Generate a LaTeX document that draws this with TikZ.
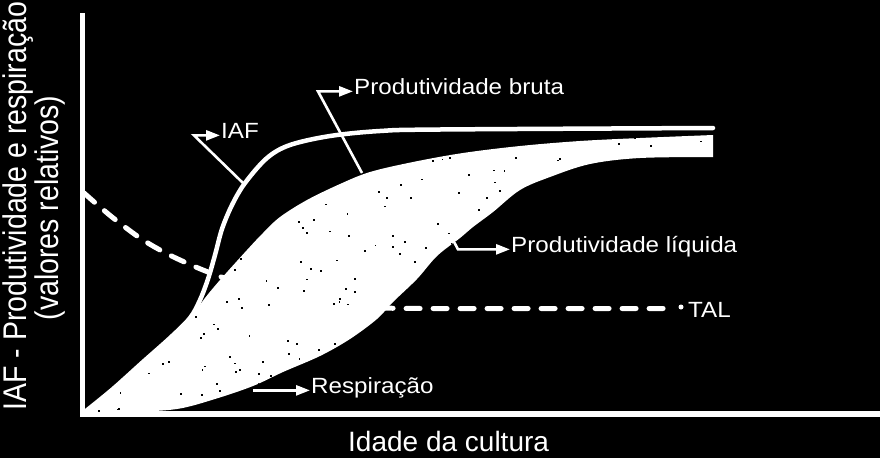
\documentclass[tikz,border=0pt]{standalone}
\usepackage{fontspec}
\setmainfont{Liberation Sans}
\usetikzlibrary{arrows.meta}
\newcommand\hstr[1]{\scalebox{1.1}[1]{#1}}
\newcommand\vstr[1]{\scalebox{1}[1.15]{#1}}
\begin{document}
\begin{tikzpicture}[x=1pt,y=-1pt,
  lbl/.style={text=white, inner sep=0pt, font=\fontsize{22}{26}\selectfont},
  axlbl/.style={text=white, inner sep=0pt, font=\fontsize{28.5}{33}\selectfont},
  conn/.style={draw=white, line width=2.6pt, shorten >=1pt, -{Triangle[length=14pt,width=10pt]}},
  curve/.style={draw=white, line width=4.5pt, line cap=round, line join=round},
  taldash/.style={draw=white, line width=5pt, line cap=round, dash pattern=on 14pt off 13pt},
  yaxis/.style={draw=white, line width=4.5pt},
  xaxis/.style={draw=white, line width=5.5pt},
  taldot/.style={circle, fill=white, inner sep=0pt, minimum size=5pt}]

\useasboundingbox (0,0) rectangle (880,458);
\fill[black] (0,0) rectangle (880,458);

% axes
\coordinate (ytop) at (82.5,13);
\coordinate (O) at (82.5,414);
\coordinate (xO) at (80,414);
\coordinate (xend) at (880,414);
\draw[yaxis] (ytop) -- (O);
\draw[xaxis] (xO) -- (xend);

% TAL (dashed), drawn under the shaded band
\draw[taldash] plot[smooth, tension=0.55] coordinates {(84,193) (100,207) (117,221) (140,238) (160,250) (180,260) (208,272) (250,287) (293,299) (340,306) (385,308) (430,308.5) (672,308.5)};

% shaded band between gross and net productivity
\path[save path=\shadep] plot[smooth,tension=0.55] coordinates {(85,412) (113,389) (143,362) (170,338) (190,318) (205,298) (220,280) (247,250) (263,233) (280,217) (307,200) (340,184) (370,172) (413,162) (463,153) (520,146) (580,141) (640,138) (713,135)}
  -- plot[smooth,tension=0.55] coordinates {(713,157) (640,158) (590,164) (550,177) (520,190) (493,212) (473,227) (460,238) (437,256) (417,279) (393,302) (377,319) (350,339) (320,356) (283,372) (253,386) (215,399) (177,409) (130,412) (85,413)} -- cycle;
\fill[white, use path=\shadep];
\begin{scope}
\clip[use path=\shadep];
\pgfmathsetseed{12}
\foreach \i in {1,...,320} {\fill[black] ({90+620*rnd},{130+282*rnd}) rectangle +(1.8,1.8);}
\end{scope}

% IAF curve
\draw[curve] plot[smooth,tension=0.55] coordinates {(86,411) (113,389) (143,362) (170,338) (190,318) (200,300) (208,279) (215,255) (222,229) (232,205) (245,183) (267,158) (290,145) (330,136) (380,131) (440,129.5) (713,128)};

% labels
\node[lbl, anchor=base west] (iaf) at (221,138) {\hstr{IAF}};
\node[lbl, anchor=base west] (pb) at (354,94) {\hstr{Produtividade bruta}};
\node[lbl, anchor=base west] (pl) at (511,252) {\hstr{Produtividade líquida}};
\node[lbl, anchor=base west] (tal) at (688,317) {\hstr{TAL}};
\node[lbl, anchor=base west] (rs) at (311,393) {\hstr{Respiração}};
\node[taldot] (tald) at (681,307) {};

% connectors
\coordinate (iafA) at (244,184);
\coordinate (iafB) at (194,0);
\draw[conn] (iafA) -- (iafB |- iaf.mid west) -- (iaf.mid west);
\coordinate (pbA) at (362,173);
\coordinate (pbB) at (318,0);
\draw[conn] (pbA) -- (pbB |- pb.mid west) -- (pb.mid west);
\coordinate (plA) at (452,238);
\coordinate (plB) at (458,0);
\draw[conn] (plA) -- (plB |- pl.mid west) -- (pl.mid west);
\coordinate (rsA) at (253,0);
\draw[conn] (rsA |- rs.mid west) -- (rs.mid west);

% axis titles
\node[axlbl, rotate=90, anchor=base] (ylab1) at (26,206) {\vstr{IAF - Produtividade e respiração}};
\node[axlbl, rotate=90, anchor=base] (ylab2) at (58,208) {\vstr{(valores relativos)}};
\node[axlbl, anchor=base west, font=\fontsize{28}{32}\selectfont] (xlab) at (348,451) {Idade da cultura};
\end{tikzpicture}
\end{document}
